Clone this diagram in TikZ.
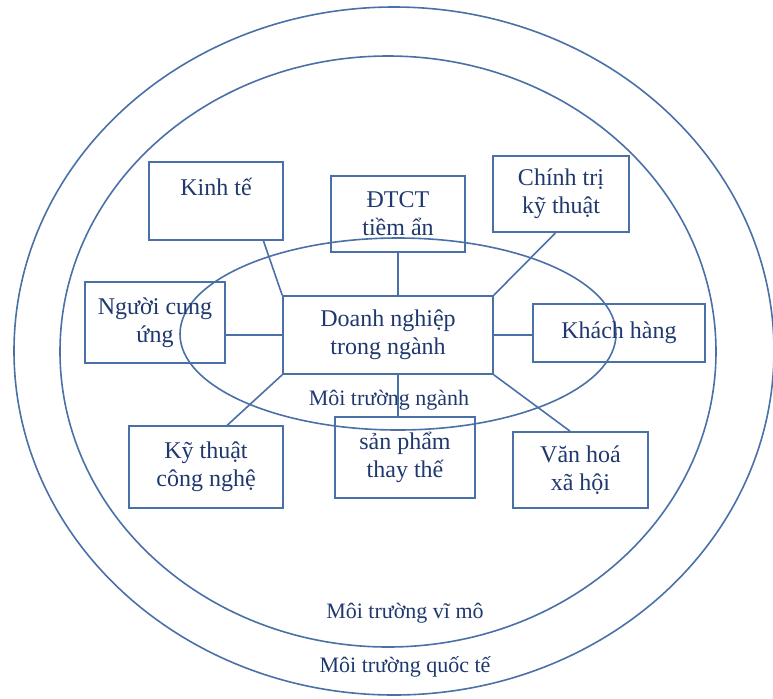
\documentclass[tikz,border=0pt]{standalone}
\usepackage{fontspec}
\setmainfont{Liberation Serif}
\usepackage{tikz}
\usetikzlibrary{shapes.geometric}
\definecolor{ringblue}{RGB}{74, 112, 168}
\definecolor{textblue}{RGB}{31, 56, 110}

\begin{document}
\begin{tikzpicture}[
    x=0.5pt, y=-0.5pt,
    ring/.style={ellipse, draw=ringblue, line width=0.8pt, inner sep=0pt},
    box/.style={rectangle, draw=ringblue, line width=0.8pt, text=textblue, align=center, inner sep=0pt, font=\fontsize{12}{14}\selectfont},
    link/.style={draw=ringblue, line width=0.8pt},
    tag/.style={text=textblue, font=\fontsize{11}{14}\selectfont}
]
\useasboundingbox (0,0) rectangle (773,698);

\node[ring, minimum width=380pt, minimum height=344pt] (quocte) at (394,351) {};
\node[ring, minimum width=328pt, minimum height=295.5pt] (vimo) at (388,351.5) {};
\node[ring, minimum width=218pt, minimum height=96pt] (nganh) at (398,334) {};

\node[box, minimum width=67pt, minimum height=39pt] (kinhte) at (216,201) {Kinh tế\\ \mbox{}};
\node[box, minimum width=67pt, minimum height=38pt] (dtct) at (398,214) {ĐTCT\\ tiềm ẩn};
\node[box, minimum width=68pt, minimum height=38pt] (chinhtri) at (561,194) {Chính trị\\ kỹ thuật};
\node[box, minimum width=70pt, minimum height=40.5pt] (nguoicu) at (155,322.5) {Người cung\\ ứng};
\node[box, minimum width=105pt, minimum height=39pt] (dn) at (388,335) {Doanh nghiệp\\ trong ngành};
\node[box, minimum width=86pt, minimum height=29pt] (khach) at (619,333) {Khách hàng};
\node[box, minimum width=77pt, minimum height=41pt] (kythuat) at (206,467) {Kỹ thuật\\ công nghệ};
\node[box, minimum width=70pt, minimum height=40.5pt] (sanpham) at (405,457.5) {sản phẩm\\ thay thế};
\node[box, minimum width=67.5pt, minimum height=38pt] (vanhoa) at (580.5,470) {Văn hoá\\ xã hội};

\node[tag] (nganhlabel) at (389,400) {Môi trường ngành};
\node[tag] (vimolabel) at (405,613) {Môi trường vĩ mô};
\node[tag] (quoctelabel) at (405,667) {Môi trường quốc tế};

\draw[link] (kinhte.-40) -- (dn.north west);
\draw[link] (dtct.south) -- (dtct.south |- dn.north);
\draw[link] (chinhtri.-98) -- (dn.north east);
\draw[link] (dn.west) -- (dn.west -| nguoicu.east);
\draw[link] (dn.east) -- (dn.east -| khach.west);
\draw[link] (dn.south west) -- (kythuat.63);
\draw[link] (dtct.south |- dn.south) -- (dtct.south |- sanpham.north);
\draw[link] (dn.south east) -- (vanhoa.105);

\end{tikzpicture}
\end{document}
